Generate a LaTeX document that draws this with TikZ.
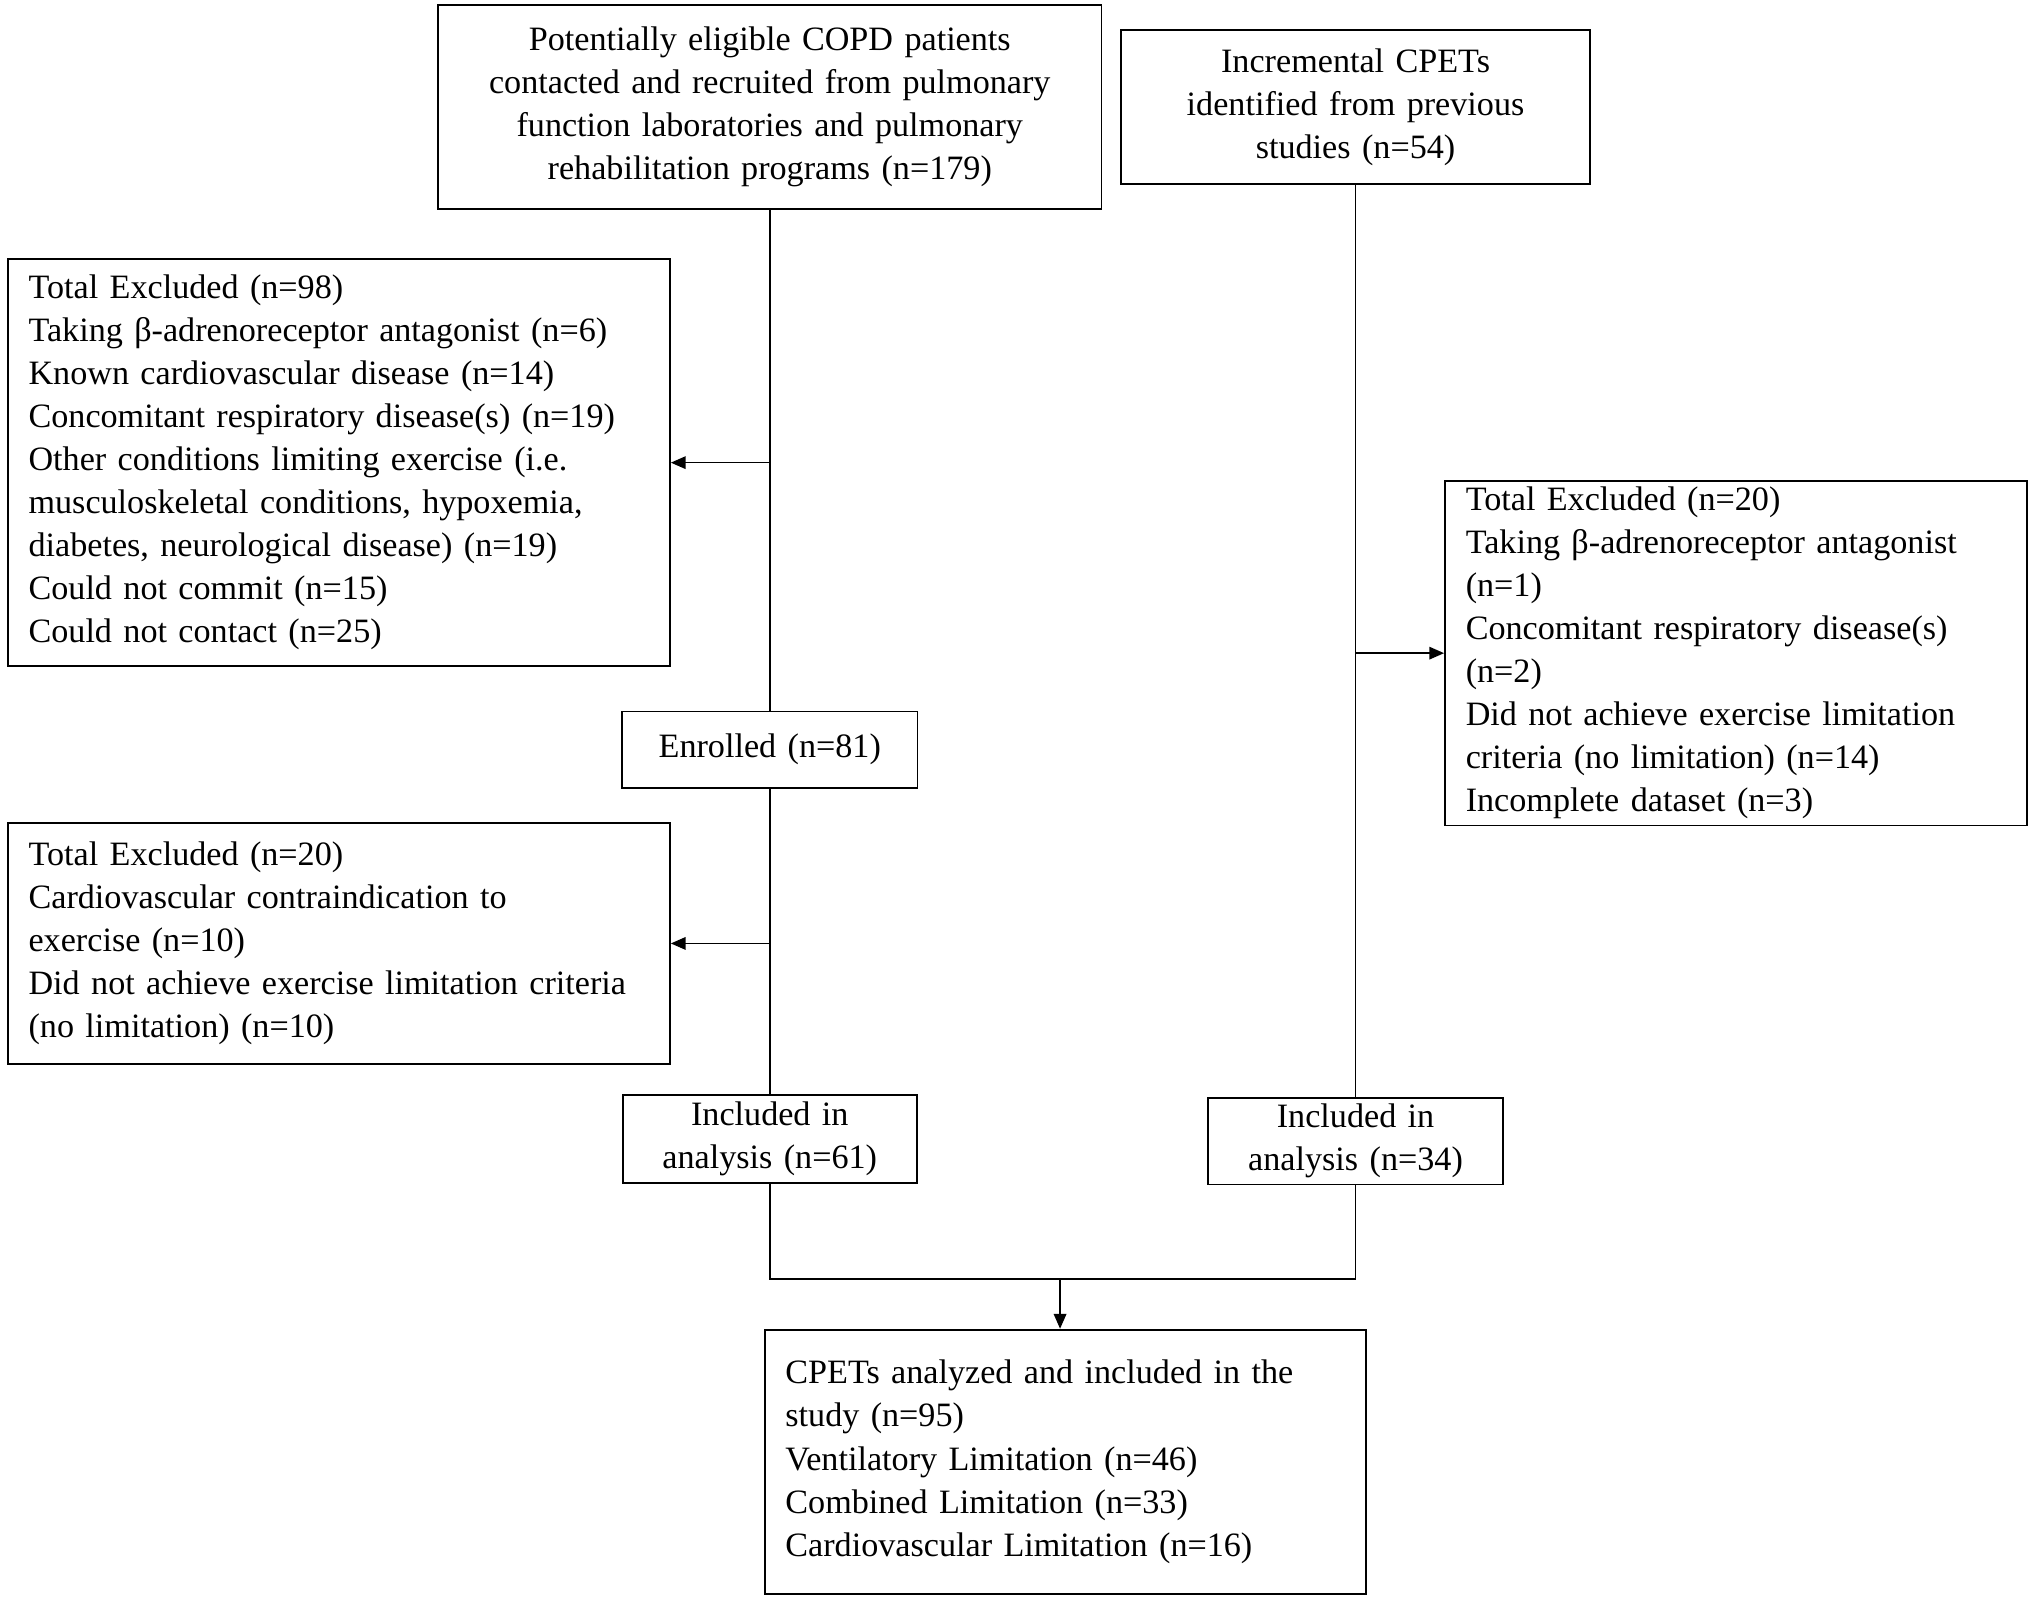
\documentclass[tikz,border=0pt]{standalone}
\usepackage{fontspec}
\setmainfont{Liberation Serif}[WordSpace=1.35]
\usetikzlibrary{arrows.meta,calc}

\begin{document}
\begin{tikzpicture}[x=0.02cm, y=0.02cm]
        \tikzstyle{every node}+=[inner xsep=0.32cm, inner ysep=0pt, font=\fontsize{15}{18.9}\selectfont]
        \tikzstyle{box}=[draw=black, line width=0.8pt]
        \tikzstyle{lbox}=[box, align=left]
        \tikzstyle{cbox}=[box, align=center]
        \tikzstyle{arr}=[black, line width=0.7pt, -{Triangle[length=6.5pt,width=5.5pt]}]
        \tikzstyle{link}=[black, line width=0.7pt]
        \useasboundingbox (0,0) rectangle (1568,-1234);
        \node [cbox, minimum width=10.24cm, minimum height=3.14cm, text width=9.6cm] (copd) at (594,-82.5) {Potentially eligible COPD patients\\contacted and recruited from pulmonary\\function laboratories and pulmonary\\rehabilitation programs (n=179)};
        \node [cbox, minimum width=7.24cm, minimum height=2.38cm, text width=6.6cm] (prev) at (1046,-82.5) {Incremental CPETs\\identified from previous\\studies (n=54)};
        \node [lbox, minimum width=10.22cm, minimum height=6.28cm, text width=9.58cm] (excla) at (261.5,-357) {Total Excluded (n=98)\\Taking β-adrenoreceptor antagonist (n=6)\\Known cardiovascular disease (n=14)\\Concomitant respiratory disease(s) (n=19)\\Other conditions limiting exercise (i.e.\\musculoskeletal conditions, hypoxemia,\\diabetes, neurological disease) (n=19)\\Could not commit (n=15)\\Could not contact (n=25)};
        \node [cbox, minimum width=4.56cm, minimum height=1.18cm, text width=3.92cm] (enrl) at (594,-578.5) {Enrolled (n=81)};
        \node [lbox, minimum width=10.22cm, minimum height=3.72cm, text width=9.58cm] (exclb) at (261.5,-728) {Total Excluded (n=20)\\Cardiovascular contraindication to\\exercise (n=10)\\Did not achieve exercise limitation criteria\\(no limitation) (n=10)};
        \node [cbox, minimum width=4.54cm, minimum height=1.36cm, text width=3.9cm] (incla) at (594,-879) {Included in\\analysis (n=61)};
        \node [lbox, minimum width=8.98cm, minimum height=5.32cm, text width=8.34cm] (exclc) at (1339.5,-504) {Total Excluded (n=20)\\Taking β-adrenoreceptor antagonist\\(n=1)\\Concomitant respiratory disease(s)\\(n=2)\\Did not achieve exercise limitation\\criteria (no limitation) (n=14)\\Incomplete dataset (n=3)};
        \node [cbox, minimum width=4.56cm, minimum height=1.34cm, text width=3.92cm] (inclb) at (1046,-880.5) {Included in\\analysis (n=34)};
        \node [lbox, minimum width=9.28cm, minimum height=4.08cm, text width=8.64cm] (total) at (822,-1128) {CPETs analyzed and included in the\\study (n=95)\\Ventilatory Limitation (n=46)\\Combined Limitation (n=33)\\Cardiovascular Limitation (n=16)};
        \coordinate (merge) at (818,-987);
        \draw [link] (copd.south) -- (enrl.north);
        \draw [link] (enrl.south) -- (incla.north);
        \draw [link] (prev.south) -- (inclb.north);
        \draw [arr] (copd.south |- excla.east) -- (excla.east);
        \draw [arr] (enrl.south |- exclb.east) -- (exclb.east);
        \draw [arr] (prev.south |- exclc.west) -- (exclc.west);
        \draw [link] (incla.south) |- (merge) -| (inclb.south);
        \draw [arr] (merge) -- (merge |- total.north);
\end{tikzpicture}
\end{document}
